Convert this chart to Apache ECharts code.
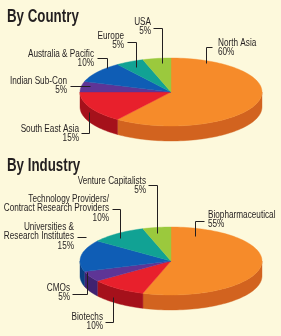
<!DOCTYPE html>
<html><head><meta charset="utf-8">
<script src="https://cdn.jsdelivr.net/npm/echarts@6.0.0/dist/echarts.min.js"></script>
<style>html,body{margin:0;padding:0;background:#fdf9dc;overflow:hidden}#c{width:281px;height:336px}</style>
</head><body><div id="c"></div>
<script>
// ---- data ----
const countryNames = ['North Asia', 'South East Asia', 'Indian Sub-Con', 'Australia & Pacific', 'Europe', 'USA'];
const countryValues = [60, 15, 5, 10, 5, 5];
const industryNames = ['Biopharmaceutical', 'Biotechs', 'CMOs', 'Universities &\nResearch Institutes', 'Technology Providers/\nContract Research Providers', 'Venture Capitalists'];
const industryValues = [55, 10, 5, 15, 10, 5];
const titles = ['By Country', 'By Industry'];

// ---- style / layout ----
const topColors = ['#f68b2a', '#e8202c', '#5e3596', '#0f5db5', '#11a294', '#9bc93d'];
const sideColors = ['#d2631f', '#a5111b', '#3f2270', '#0a3f82', '#0b7268', '#6f9a25'];
const ink = '#231f20';
const pies = [
  {cx: 171, cy: 92, rx: 91, ry: 34, depth: 15},
  {cx: 171, cy: 261, rx: 91, ry: 34, depth: 15}
];
const countryLabelLayout = [
  {x: 218, y: 43, align: 'left', line: [[212, 47], [206, 47], [206, 63]]},
  {x: 79, y: 129, align: 'right', line: [[81, 133], [89, 133], [89, 112]]},
  {x: 67, y: 81, align: 'right', line: [[70, 86], [90, 86]]},
  {x: 94, y: 54, align: 'right', line: [[97, 58], [107, 58], [107, 68]]},
  {x: 124, y: 36, align: 'right', line: [[127, 42], [136, 42], [136, 67]]},
  {x: 151, y: 22, align: 'right', line: [[153, 28], [162, 28], [162, 63]]}
];
const industryLabelLayout = [
  {x: 208, y: 215, align: 'left', line: [[204, 221], [195, 221], [195, 236]]},
  {x: 103, y: 317, align: 'right', line: [[105, 322], [113, 322], [113, 297]]},
  {x: 70, y: 288, align: 'right', line: [[72, 294], [87, 294], [87, 272]]},
  {x: 74, y: 227, align: 'right', line: [[77, 237], [86, 237]]},
  {x: 109, y: 199, align: 'right', line: [[112, 209], [120, 209], [120, 238]]},
  {x: 146, y: 181, align: 'right', line: [[148, 185], [157, 185], [157, 233]]}
];
const titlePos = [{x: 7, y: 17}, {x: 7, y: 166}];
const LH = 9.5;
const FONT = '"Liberation Sans", Arial, sans-serif';

function cumulative(vals) {
  const total = vals.reduce((a, b) => a + b, 0);
  let acc = 0;
  return vals.map(v => { const s = acc; acc += v; return [s / total * 360, acc / total * 360]; });
}
function pt(p, deg, dy) {
  const t = deg * Math.PI / 180;
  return [p.cx + p.rx * Math.sin(t), p.cy - p.ry * Math.cos(t) + (dy || 0)];
}
function arcPts(p, a1, a2, dy) {
  const n = Math.max(2, Math.ceil((a2 - a1) / 2));
  const out = [];
  for (let k = 0; k <= n; k++) out.push(pt(p, a1 + (a2 - a1) * k / n, dy));
  return out;
}
function topSeries(p, vals) {
  const ang = cumulative(vals);
  return {
    type: 'custom', coordinateSystem: 'none', silent: true, z: 3,
    data: vals.map(v => [v]),
    renderItem: function (params, api) {
      const i = params.dataIndex;
      const [a1, a2] = ang[i];
      const pts = [[p.cx, p.cy]].concat(arcPts(p, a1, a2, 0));
      return {type: 'polygon', shape: {points: pts},
        style: {fill: topColors[i], stroke: topColors[i], lineWidth: 0.4}};
    }
  };
}
function sideSeries(p, vals) {
  const ang = cumulative(vals);
  return {
    type: 'custom', coordinateSystem: 'none', silent: true, z: 2,
    data: vals.map(v => [v]),
    renderItem: function (params, api) {
      const i = params.dataIndex;
      const s = Math.max(ang[i][0], 90), e = Math.min(ang[i][1], 270);
      if (s >= e) return {type: 'group', children: []};
      const top = arcPts(p, s, e, 0);
      const bot = arcPts(p, s, e, p.depth).reverse();
      return {type: 'polygon', shape: {points: top.concat(bot)},
        style: {fill: sideColors[i], stroke: sideColors[i], lineWidth: 0.4}};
    }
  };
}
function labelGraphics(names, vals, layout) {
  const g = [];
  names.forEach((nm, i) => {
    const L = layout[i];
    g.push({type: 'text', x: L.x, y: L.y - LH / 2, scaleX: 0.82, z: 10, silent: true,
      style: {text: nm + '\n' + vals[i] + '%', fill: ink, align: L.align, verticalAlign: 'top',
        font: '10px ' + FONT, lineHeight: LH}});
    g.push({type: 'polyline', z: 10, silent: true,
      shape: {points: L.line.map(q => [q[0] + 0.5, q[1] + 0.5])},
      style: {stroke: ink, lineWidth: 1, fill: null}});
  });
  return g;
}

const graphics = [];
titles.forEach((t, i) => {
  graphics.push({type: 'text', x: titlePos[i].x, y: titlePos[i].y, scaleX: 0.74, z: 10, silent: true,
    style: {text: t, fill: ink, align: 'left', verticalAlign: 'middle',
      font: 'bold 18px ' + FONT}});
});
graphics.push(...labelGraphics(countryNames, countryValues, countryLabelLayout));
graphics.push(...labelGraphics(industryNames, industryValues, industryLabelLayout));

const chart = echarts.init(document.getElementById('c'), null, {renderer: 'canvas'});
chart.setOption({
  backgroundColor: '#fdf9dc',
  animation: false,
  series: [
    sideSeries(pies[0], countryValues), topSeries(pies[0], countryValues),
    sideSeries(pies[1], industryValues), topSeries(pies[1], industryValues)
  ],
  graphic: graphics
});
</script></body></html>
